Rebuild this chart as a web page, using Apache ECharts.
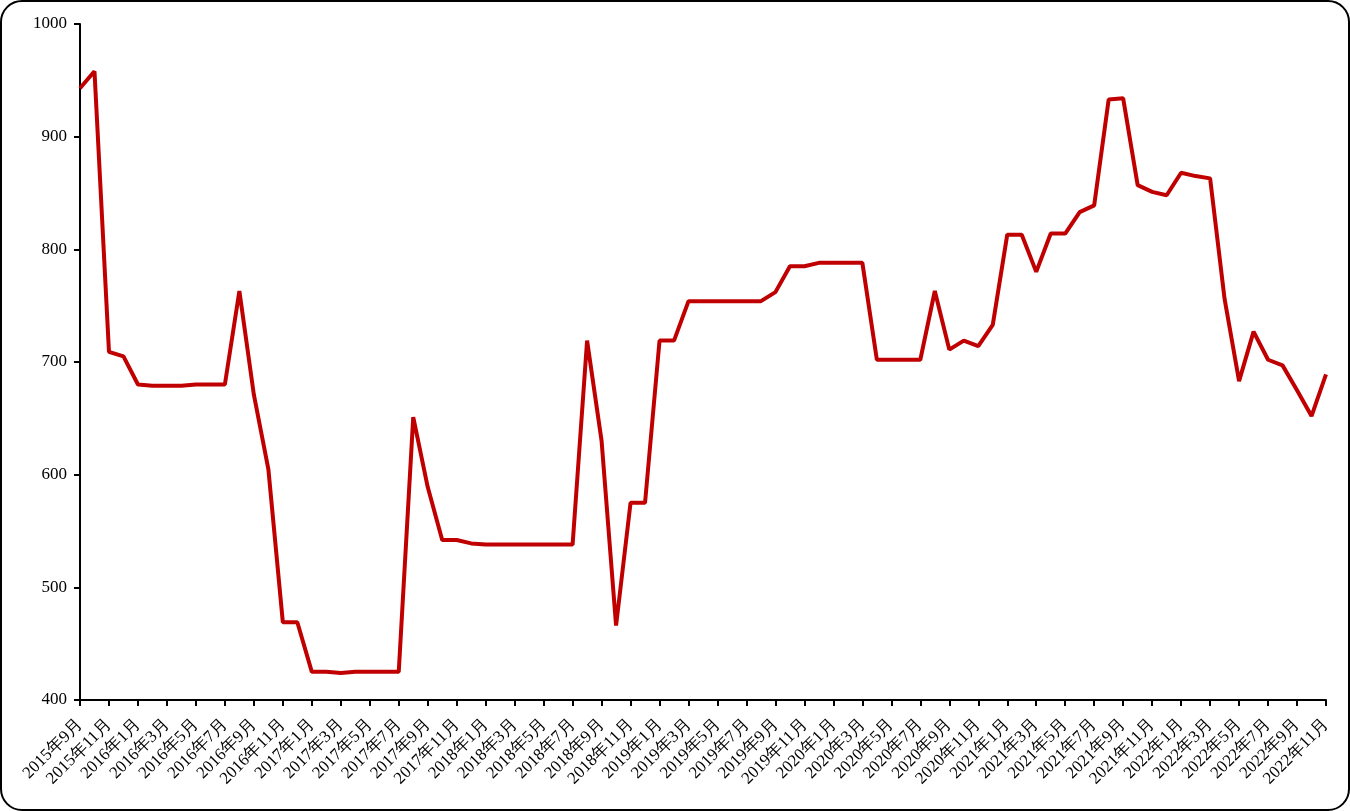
<!DOCTYPE html>
<html>
<head>
<meta charset="utf-8">
<script src="https://cdn.jsdelivr.net/npm/echarts@6/dist/echarts.min.js"></script>
<style>
  html, body { margin: 0; padding: 0; background: #fff; }
  #frame {
    width: 1350px; height: 811px; box-sizing: border-box;
    border: 2px solid #000; border-radius: 22px; overflow: hidden;
  }
  #chart { width: 1350px; height: 811px; margin: -2px; }
</style>
</head>
<body>
<div id="frame"><div id="chart"></div></div>
<script>
// 月份 2015年9月 ~ 2022年11月
var startYear = 2015, startMonth = 9, monthCount = 87;
var months = [];
for (var k = 0; k < monthCount; k++) {
  var m = startMonth - 1 + k;
  months.push((startYear + Math.floor(m / 12)) + "年" + (m % 12 + 1) + "月");
}

// 价格
var prices = [
  943, 958, 709, 705, 680, 679, 679, 679, 680, 680, 680, 763,
  671, 605, 469, 469, 425, 425, 424, 425, 425, 425, 425, 651,
  589, 542, 542, 539, 538, 538, 538, 538, 538, 538, 538, 719,
  630, 466, 575, 575, 719, 719, 754, 754, 754, 754, 754, 754,
  762, 785, 785, 788, 788, 788, 788, 702, 702, 702, 702, 763,
  711, 719, 714, 733, 813, 813, 780, 814, 814, 833, 839, 933,
  934, 857, 851, 848, 868, 865, 863, 756, 683, 727, 702, 697,
  675, 652, 689
];

var yTicks = [400, 500, 600, 700, 800, 900, 1000];

var serif = "'Liberation Serif', 'Times New Roman', serif";
var chart = echarts.init(document.getElementById("chart"));
chart.setOption({
  animation: false,
  grid: { left: 80, right: 24, top: 24, bottom: 111, containLabel: false },
  xAxis: {
    type: "category",
    data: months,
    boundaryGap: false,
    axisLine: { lineStyle: { color: "#000", width: 2 } },
    axisTick: { interval: 1, length: 6, lineStyle: { color: "#000", width: 2 } },
    axisLabel: {
      interval: 1, rotate: 45, margin: 22,
      color: "#000", fontSize: 17, fontFamily: serif
    },
    splitLine: { show: false }
  },
  yAxis: {
    type: "value",
    min: yTicks[0],
    max: yTicks[yTicks.length - 1],
    interval: 100,
    axisLine: { show: true, lineStyle: { color: "#000", width: 2 } },
    axisTick: { show: true, length: 6, lineStyle: { color: "#000", width: 2 } },
    axisLabel: {
      color: "#000", fontSize: 17, fontFamily: serif, margin: 13,
      formatter: function (v) { return String(v); }
    },
    splitLine: { show: false }
  },
  series: [{
    type: "line",
    data: prices,
    showSymbol: false,
    symbol: "none",
    lineStyle: { color: "#c00000", width: 4 },
    itemStyle: { color: "#c00000" }
  }]
});
</script>
</body>
</html>
